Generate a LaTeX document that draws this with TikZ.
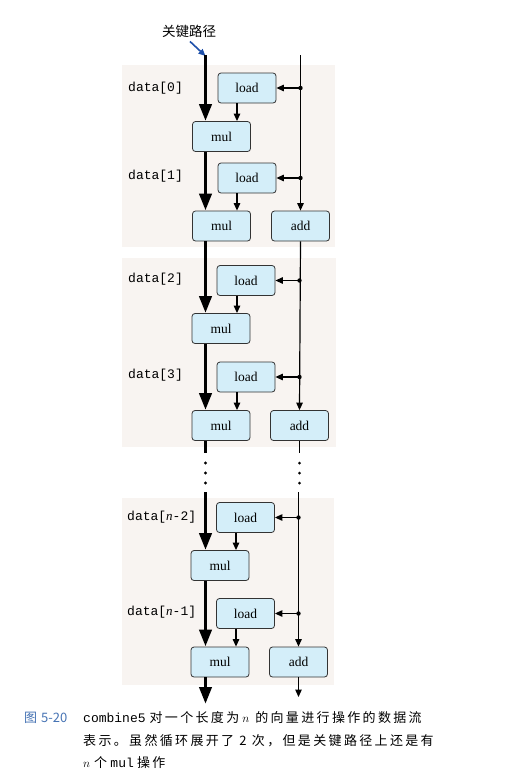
\documentclass[tikz,border=0pt]{standalone}
\usepackage{fontspec}
\setmainfont{Liberation Serif}
\newfontfamily\monofont{Liberation Mono}
\newfontfamily\cjk{Noto Sans CJK SC}
\newfontfamily\cjkcap[LetterSpace=18]{Noto Sans CJK SC}
\usetikzlibrary{arrows.meta}
\definecolor{panelbg}{RGB}{248,244,241}
\definecolor{boxblue}{RGB}{212,238,249}
\definecolor{critblue}{RGB}{30,80,170}
\definecolor{capblue}{RGB}{70,115,180}
\tikzset{
  box/.style={draw=black!80, fill=boxblue, rounded corners=3pt, minimum width=58pt,
    minimum height=30pt, inner sep=0pt, line width=0.8pt,
    font=\fontsize{13.5}{16}\selectfont},
  crit/.style={line width=3.8pt, -{Triangle[length=17pt,width=12pt]}},
  critplain/.style={line width=3.8pt},
  flow/.style={line width=1.2pt, -{Triangle[length=7.5pt,width=6.5pt]}},
  plain/.style={line width=1.2pt},
  lab/.style={anchor=west, inner sep=0pt, font=\monofont\fontsize{13}{15}\selectfont},
  kparrow/.style={draw=critblue, line width=1.6pt, -{Triangle[length=7pt,width=6pt]}},
  captxt/.style={anchor=west, inner sep=0pt, font=\fontsize{13}{15}\selectfont}
}
\begin{document}
\begin{tikzpicture}[x=1pt,y=-1pt]
\useasboundingbox (0,0) rectangle (507,780);
\fill[white] (0,0) rectangle (507,780);
% panels
\fill[panelbg] (122,65) rectangle (335,247);
\fill[panelbg] (122,258) rectangle (336,447);
\fill[panelbg] (122,498) rectangle (334,685);
% nodes
\node[box] (l1) at (247,88) {load};
\node[box] (m1) at (221.5,136.5) {mul};
\node[box] (l2) at (247,178) {load};
\node[box] (m2) at (221.5,226) {mul};
\node[box] (a1) at (300.5,226) {add};
\node[box] (l3) at (246,280.5) {load};
\node[box] (m3) at (221,328.5) {mul};
\node[box] (l4) at (246,377) {load};
\node[box] (m4) at (221,425.5) {mul};
\node[box] (a2) at (299.5,425.5) {add};
\node[box] (l5) at (245.5,517.5) {load};
\node[box] (m5) at (220,565.5) {mul};
\node[box] (l6) at (245.5,613.5) {load};
\node[box] (m6) at (220,662) {mul};
\node[box] (a3) at (298.5,662) {add};
% labels
\node[lab] (d0) at (128,88) {data[0]};
\node[lab] (d1) at (128,176) {data[1]};
\node[lab] (d2) at (128,279) {data[2]};
\node[lab] (d3) at (128,375) {data[3]};
\node[lab] (d4) at (127,517) {data[{\normalfont\itshape n}-2]};
\node[lab] (d5) at (127,612) {data[{\normalfont\itshape n}-1]};
% critical path
\node[font=\cjk\fontsize{13.5}{16}\selectfont, inner sep=0pt] (kp) at (189,31) {关键路径};
\coordinate (ct) at (205.5,55);
\draw[kparrow] ([xshift=1pt,yshift=-4pt]kp.south) -- ([yshift=-1pt]ct);
\draw[crit] (ct) -- (ct |- m1.north);
\draw[crit] (ct |- m1.south) -- (ct |- m2.north);
\draw[crit] (ct |- m2.south) -- (ct |- m3.north);
\draw[crit] (ct |- m3.south) -- (ct |- m4.north);
\coordinate (cb) at (205.5,453);
\draw[critplain] (ct |- m4.south) -- (cb);
\fill (205.5,463) circle (1.7);
\fill (205.5,473) circle (1.7);
\fill (205.5,483) circle (1.7);
\coordinate (cr) at (205.5,492);
\draw[crit] (cr) -- (cr |- m5.north);
\draw[crit] (cr |- m5.south) -- (cr |- m6.north);
\coordinate (ce) at (205.5,704);
\draw[crit] (cr |- m6.south) -- (ce);
% load -> mul arrows
\coordinate (sx) at (237,0);
\draw[flow] (sx |- l1.south) -- (sx |- m1.north);
\draw[flow] (sx |- l2.south) -- (sx |- m2.north);
\draw[flow] (sx |- l3.south) -- (sx |- m3.north);
\draw[flow] (sx |- l4.south) -- (sx |- m4.north);
\coordinate (sy) at (236,0);
\draw[flow] (sy |- l5.south) -- (sy |- m5.north);
\draw[flow] (sy |- l6.south) -- (sy |- m6.north);
% right column
\coordinate (rt) at (300.5,55);
\draw[flow] (rt) -- (a1.north);
\coordinate (j1) at (rt |- l1.east);
\coordinate (j2) at (rt |- l2.east);
\draw[flow] (j1) -- (l1.east);
\draw[flow] (j2) -- (l2.east);
\fill (j1) circle (2.2);
\fill (j2) circle (2.2);
\draw[flow] (a1.south) -- (a2.north);
\coordinate (j3) at (a2.north |- l3.east);
\coordinate (j4) at (a2.north |- l4.east);
\draw[flow] (j3) -- (l3.east);
\draw[flow] (j4) -- (l4.east);
\fill (j3) circle (2.2);
\fill (j4) circle (2.2);
\coordinate (rb) at (299.5,453);
\draw[plain] (a2.south) -- (rb);
\fill (299.5,463) circle (1.5);
\fill (299.5,473) circle (1.5);
\fill (299.5,483) circle (1.5);
\coordinate (rr) at (298.5,492);
\draw[flow] (rr) -- (a3.north);
\coordinate (j5) at (rr |- l5.east);
\coordinate (j6) at (rr |- l6.east);
\draw[flow] (j5) -- (l5.east);
\draw[flow] (j6) -- (l6.east);
\fill (j5) circle (2.2);
\fill (j6) circle (2.2);
\coordinate (re) at (298.5,697);
\draw[flow] (a3.south) -- (re);
% caption
\node[captxt, text=capblue] (fig) at (24,718) {\cjk 图\hspace{4pt}5-20};
\node[captxt] (c1) at (83,718) {{\monofont combine5}\hspace{4pt}{\cjkcap 对一个长度为}\hspace{3pt}$n$\hspace{6pt}{\cjkcap 的向量进行操作的数据流}};
\node[captxt] (c2) at (83,741) {\cjkcap 表示。虽然循环展开了 2 次，但是关键路径上还是有};
\node[captxt] (c3) at (83,763) {$n$\hspace{4pt}{\cjkcap 个} {\monofont mul} {\cjkcap 操作}};
\end{tikzpicture}
\end{document}
